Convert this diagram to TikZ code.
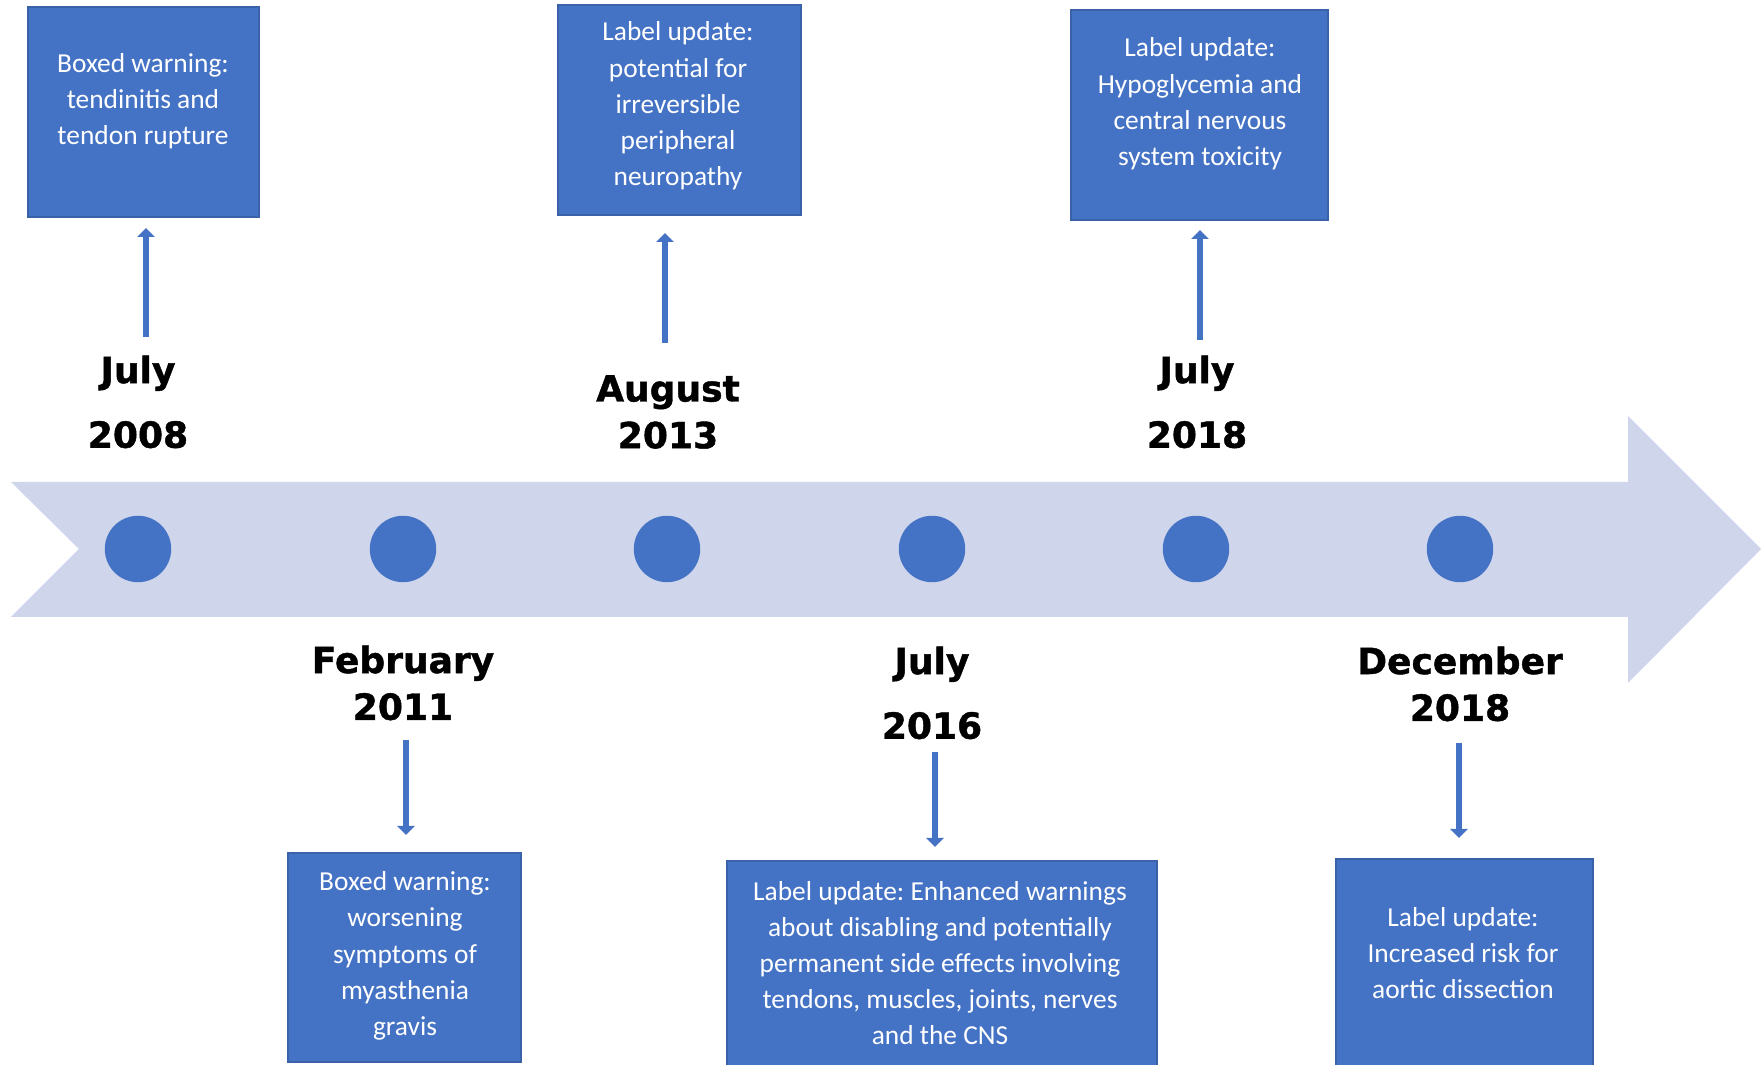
\documentclass[tikz,border=0pt]{standalone}
\usepackage{fontspec}
\setmainfont{Carlito}
\newfontfamily\datefont{DejaVu Sans}[BoldFeatures={FakeBold=1.2}]
\usetikzlibrary{arrows.meta}
\frenchspacing

\definecolor{evblue}{HTML}{4472C4}
\definecolor{evedge}{HTML}{3A62A8}
\definecolor{bandfill}{HTML}{CFD5EA}

\tikzset{
  evbox/.style={rectangle, draw=evedge, line width=0.15mm, fill=evblue, inner sep=0pt},
  evtext/.style={text=white, align=center, inner sep=0pt,
    font=\fontsize{7.8}{10.3}\selectfont},
  datelabel/.style={align=center, inner sep=0pt,
    font=\datefont\bfseries\fontsize{10.25}{13.3}\selectfont},
  dot/.style={circle, fill=evblue, draw=evblue, minimum size=6.5mm, inner sep=0pt},
  link/.style={draw=evblue, line width=0.55mm,
    -{Triangle[width=1.7mm,length=0.9mm]}},
}

\begin{document}
\begin{tikzpicture}[x=0.1mm, y=-0.1mm]
\useasboundingbox (0,0) rectangle (1764,1065);
\clip (0,0) rectangle (1764,1065);

% timeline band with notched tail and arrow head
\fill[bandfill] (11,482) -- (1628,482) -- (1628,416) -- (1761,549)
  -- (1628,683) -- (1628,617) -- (11,617) -- (79,549) -- cycle;

% milestones on the band
\node[dot] (c1) at (138,549) {};
\node[dot] (c2) at (403,549) {};
\node[dot] (c3) at (667,549) {};
\node[dot] (c4) at (932,549) {};
\node[dot] (c5) at (1196,549) {};
\node[dot] (c6) at (1460,549) {};

% dates
\node[datelabel] (d1) at (138,402) {July\\[5.1pt]2008};
\node[datelabel] (d2) at (668,412) {August\\2013};
\node[datelabel] (d3) at (1197,402) {July\\[5.1pt]2018};
\node[datelabel] (d4) at (403,683) {February\\2011};
\node[datelabel] (d5) at (932,693) {July\\[5.1pt]2016};
\node[datelabel] (d6) at (1460,684) {December\\2018};

% event boxes
\node[evbox, minimum width=23.1mm, minimum height=21mm] (b1) at (143.5,112) {};
\node[evbox, minimum width=24.3mm, minimum height=21mm] (b2) at (679.5,110) {};
\node[evbox, minimum width=25.7mm, minimum height=21mm] (b3) at (1199.5,115) {};
\node[evbox, minimum width=23.3mm, minimum height=20.9mm] (b4) at (404.5,957.5) {};
\node[evbox, minimum width=43mm, minimum height=21.9mm] (b5) at (942,970.5) {};
\node[evbox, minimum width=25.7mm, minimum height=22.1mm] (b6) at (1464.5,969.5) {};

\node[evtext] (t1) at (143,101) {Boxed warning:\\tendinitis and\\tendon rupture};
\node[evtext] (t2) at (678,106) {Label update:\\potential for\\irreversible\\peripheral\\neuropathy};
\node[evtext] (t3) at (1200,104) {Label update:\\Hypoglycemia and\\central nervous\\system toxicity};
\node[evtext] (t4) at (405,956) {Boxed warning:\\worsening\\symptoms of\\myasthenia\\gravis};
\node[evtext] (t5) at (940,963) {Label update: Enhanced warnings\\about disabling and potentially\\permanent side effects involving\\tendons, muscles, joints, nerves\\and the CNS};
\node[evtext] (t6) at (1463,953) {Label update:\\Increased risk for\\aortic dissection};

% connector ends
\coordinate (p1) at (146,337);  \coordinate (q1) at (146,228);
\coordinate (p2) at (665,343);  \coordinate (q2) at (665,233);
\coordinate (p3) at (1200,340); \coordinate (q3) at (1200,230);
\coordinate (p4) at (406,740);  \coordinate (q4) at (406,835);
\coordinate (p5) at (935,752);  \coordinate (q5) at (935,847);
\coordinate (p6) at (1459,743); \coordinate (q6) at (1459,838);

\draw[link] (p1) -- (q1);
\draw[link] (p2) -- (q2);
\draw[link] (p3) -- (q3);
\draw[link] (p4) -- (q4);
\draw[link] (p5) -- (q5);
\draw[link] (p6) -- (q6);
\end{tikzpicture}
\end{document}
